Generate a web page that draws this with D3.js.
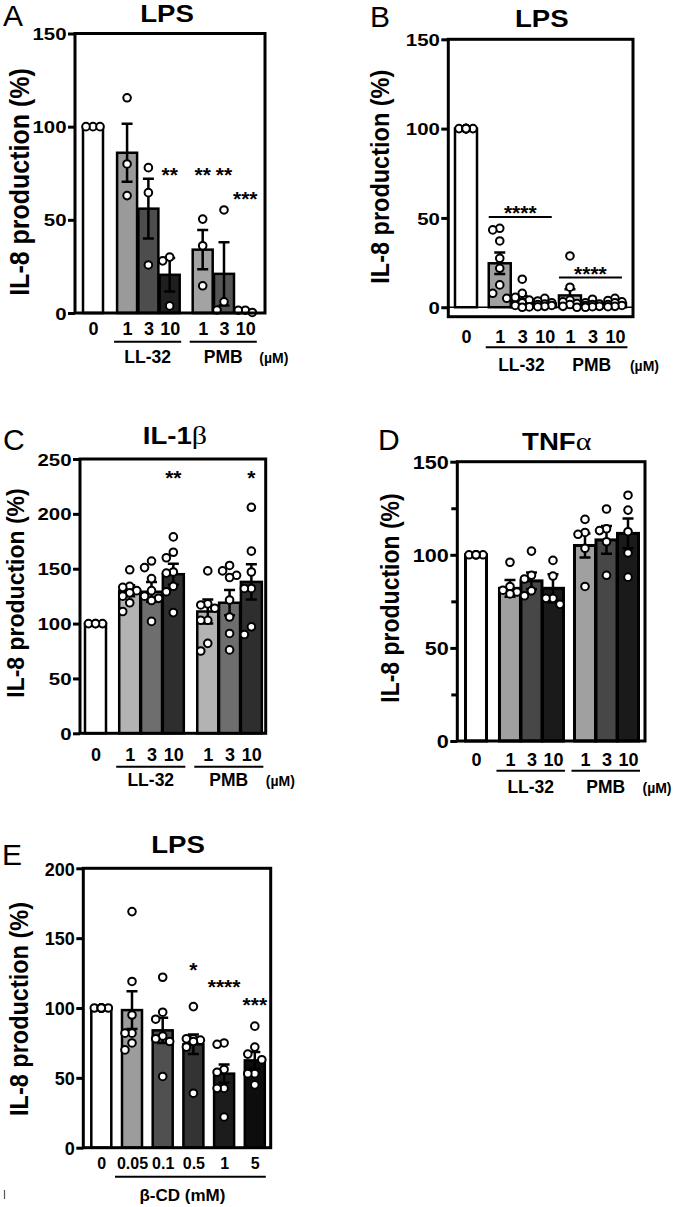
<!DOCTYPE html>
<html><head><meta charset="utf-8">
<script src="https://cdn.jsdelivr.net/npm/d3@7"></script>
<style>body{margin:0;background:#fff} svg{display:block}</style>
</head><body><svg id="c" width="677" height="1207"></svg>
<script>
// ---------------- DATA ----------------
const doseTicks = ["0","1","3","10","1","3","10"];
const groupNames = ["LL-32","PMB"];
const doseUnit = "(µM)";
const yLabelText = "IL-8 production (%)";

// Panel A (LPS, n=3)
const aMeans = [100, 86, 56, 20.5, 34, 21, 0.8];
const aSem   = [0, 15.5, 16, 9, 10.5, 17, 0.5];
const aPoints = [[100,100,100],[115.5,80,63],[78,64.6,25.8],[30,28,3.8],[50.4,36.1,14.6],[55.3,6,1.6],[1.5,1.5,0.3]];
const aStars = [{bar:3,text:"**",level:76.7},{bar:4,text:"**",level:76.7},{bar:5,text:"**",level:76.7},{bar:6,text:"***",level:63.9}];

// Panel B (LPS, n=8)
const bMeans = [100, 24.6, 4.5, 2, 6.6, 1.5, 2.2];
const bSem   = [0, 6, 1.8, 0.7, 3.5, 0.6, 0.6];
const bPoints = [
  [100,100,100,100,100,100,100,100],
  [44.2,43.3,37.1,27.4,21.8,12.5,7.8,5],
  [15.7,7.8,5.5,4,2.5,1,0.2,0],
  [5,3.5,2.5,1.8,1.5,1,0.5,0.3],
  [28.7,11.2,4,3,2,1.5,0.5,0],
  [4.5,2.5,1.8,1.5,1,0.5,0.3,0],
  [5,3.8,3,2.5,1.5,1,0.5,0.3]];
const bBrackets = [{from:1,to:3,text:"****",level:50.5},{from:4,to:6,text:"****",level:16.6}];

// Panel C (IL-1β)
const cMeans = [100, 130, 129, 145, 111, 119, 138];
const cSem   = [0, 5, 9, 9.5, 11, 11.5, 16];
const cPoints = [
  [100,100,100,100],
  [149,134,133,130,128,125,119,111],
  [157,151,141,130,125,123,121,102],
  [179,165,160,147,146,134,129,110],
  [148,118,117,114,103,103,82,75],
  [153,148,144,142,121.5,106,91,76],
  [206,166,147,132,132,97,90]];
const cStars = [{bar:3,text:"**",level:237},{bar:6,text:"*",level:237}];

// Panel D (TNFα)
const dMeans = [100, 82, 86, 82, 105, 108, 111.5];
const dSem   = [0, 4.5, 4.5, 7.5, 6.5, 7.5, 8];
const dPoints = [
  [100,100,100,100,100],
  [96,83,81,80,79],
  [102,89,87,80.7,78],
  [97,88.6,76.6,76.6,73.4],
  [119,112,111,103.5,83],
  [124.6,114,113,107,89],
  [132,124,112.4,101,88]];

// Panel E (LPS, β-CD)
const eTicks = ["0","0.05","0.1","0.5","1","5"];
const eAxisTitle = "β-CD (mM)";
const eMeans = [100, 98.5, 84, 74, 53, 62.5];
const eSem   = [0, 13.5, 9, 7, 6.5, 6];
const ePoints = [
  [100,100,100,100,100,100,100],
  [169,119,95,82,82,75,70],
  [122,97,92,80,78,76,51],
  [101,78,78,77,76,72,39],
  [75,74,56,54,42.5,42.5,22],
  [87,72,67,63,53,53,45]];
const eStars = [{bar:3,text:"*",level:130.8},{bar:4,text:"****",level:118.8},{bar:5,text:"***",level:105.7}];

// ---------------- DRAWING ----------------
const FONT = "'Liberation Sans', Arial, Helvetica, sans-serif";
const svg = d3.select("#c");

function doseSlots(g0, g1){ return [0, g0, g0+1, g0+2, g0+2+g1, g0+3+g1, g0+4+g1]; }

function swarm(vals, yS, cx, spacing, maxOff, r){
  const placed = [];
  vals.forEach(v=>{
    const py = yS(v);
    const cands=[0];
    for(let k=1;k*spacing<=maxOff+0.01;k++){cands.push(-k*spacing,k*spacing);}
    let best=0,bestD=-1;
    for(const o of cands){
      let md=Infinity;
      for(const p of placed){const d=Math.hypot(p.x-(cx+o),p.y-py); if(d<md)md=d;}
      if(md>=2*r){best=o;break;}
      if(md>bestD){bestD=md;best=o;}
    }
    placed.push({x:cx+best,y:py});
  });
  return placed;
}

function drawPanel(P){
  const g = svg.append("g");
  const y = d3.scaleLinear().domain(P.domain).range(P.yRange);
  const x = d3.scaleLinear().domain([0,1]).range([P.c0, P.c0+P.unit]);
  const s = P.slots, bw = P.barW, y0 = y(0);
  const yBottom = P.yRange[0], yTop = P.yRange[1];

  // bars
  g.selectAll("rect.bar").data(P.means).join("rect").attr("class","bar")
    .attr("x",(d,i)=>x(s[i])-bw/2).attr("y",d=>y(d))
    .attr("width",bw).attr("height",d=>Math.max(0,y0-y(d)))
    .attr("fill",(d,i)=>P.colors[i]).attr("stroke","#000").attr("stroke-width",P.barStroke||2.5);

  if(P.zeroLine){
    g.append("line").attr("x1",P.left).attr("x2",P.right).attr("y1",y0).attr("y2",y0)
      .attr("stroke","#000").attr("stroke-width",1.6);
  }

  // error bars
  P.means.forEach((m,i)=>{
    const e=P.sems[i]; if(!e) return;
    const cx=x(s[i]), t=y(m+e), b=y(Math.max(m-e,P.domain[0]));
    const cw=5.5;
    g.append("path").attr("d",`M${cx},${t}V${b}M${cx-cw},${t}H${cx+cw}M${cx-cw},${b}H${cx+cw}`)
      .attr("stroke","#000").attr("stroke-width",2.5).attr("fill","none");
  });

  // points
  P.points.forEach((arr,i)=>{
    const pts = swarm(arr,y,x(s[i]),7,Math.max(7,bw/2-3),4.5);
    g.selectAll(null).data(pts).join("circle")
      .attr("cx",d=>d.x).attr("cy",d=>d.y).attr("r",3.8)
      .attr("fill","#fff").attr("stroke","#000").attr("stroke-width",2);
  });

  // frame
  g.append("rect").attr("x",P.left).attr("y",yTop).attr("width",P.right-P.left).attr("height",yBottom-yTop)
    .attr("fill","none").attr("stroke","#000").attr("stroke-width",3);

  // y axis
  const sx = P.tickSX||1.2;
  const ax = g.append("g").attr("transform",`translate(${P.left},0)`)
    .call(d3.axisLeft(y).tickValues(P.yTicks).tickSize(7).tickFormat(d3.format("d")));
  ax.select(".domain").remove();
  ax.selectAll(".tick line").attr("stroke","#000").attr("stroke-width",3);
  ax.selectAll(".tick text").attr("fill","#000").attr("font-family",FONT).attr("font-weight","bold")
    .attr("font-size",P.tickFs||17).attr("x",-8.5/sx).attr("dy","0.36em").attr("transform",`scale(${sx},1)`);
  if(P.minor){
    const mx = g.append("g").attr("transform",`translate(${P.left},0)`)
      .call(d3.axisLeft(y).tickValues(P.minor).tickSize(6).tickFormat(""));
    mx.select(".domain").remove();
    mx.selectAll(".tick line").attr("stroke","#000").attr("stroke-width",3);
  }

  // x tick labels
  const xa = g.append("g").attr("transform",`translate(0,${P.xLabY})`)
    .call(d3.axisBottom(x).tickValues(s).tickSize(0).tickFormat((d,i)=>P.xTicks[i]));
  xa.select(".domain").remove();
  xa.selectAll(".tick text").attr("fill","#000").attr("font-family",FONT).attr("font-weight","bold")
    .attr("font-size",P.xFs||18).attr("y",0).attr("dy",0);

  // group lines and labels
  (P.groups||[]).forEach(gr=>{
    const x1 = x(s[gr.from])-bw/2-3, x2 = x(s[gr.to])+bw/2+1.5;
    g.append("line").attr("x1",x1).attr("x2",x2).attr("y1",P.groupLineY).attr("y2",P.groupLineY)
      .attr("stroke","#000").attr("stroke-width",2);
    g.append("text").attr("x",(x1+x2)/2).attr("y",P.groupTextY).attr("text-anchor","middle")
      .attr("font-family",FONT).attr("font-weight","bold").attr("font-size",17.5).text(gr.name);
    if(gr.unit){
      g.append("text").attr("x",x2+17).attr("y",P.groupTextY).attr("text-anchor","middle")
        .attr("font-family",FONT).attr("font-weight","bold").attr("font-size",14).text(gr.unit);
    }
  });

  // stars
  (P.stars||[]).forEach(st=>{
    g.append("text").attr("x",x(s[st.bar])).attr("y",y(st.level)+12).attr("text-anchor","middle")
      .attr("font-family",FONT).attr("font-weight","bold").attr("font-size",21).text(st.text);
  });
  (P.brackets||[]).forEach(br=>{
    const x1=x(s[br.from])-bw/2, x2=x(s[br.to])+bw/2-4, ly=y(br.level);
    g.append("line").attr("x1",x1).attr("x2",x2).attr("y1",ly).attr("y2",ly).attr("stroke","#000").attr("stroke-width",2);
    g.append("text").attr("x",(x1+x2)/2).attr("y",ly-9+12).attr("text-anchor","middle")
      .attr("font-family",FONT).attr("font-weight","bold").attr("font-size",21).text(br.text);
  });

  // title
  const tt = g.append("text").attr("text-anchor","middle").attr("font-family",FONT).attr("font-weight","bold")
    .attr("font-size",23).attr("transform",`translate(${P.titleX},${P.titleY}) scale(1.2,1)`);
  tt.append("tspan").text(P.title);
  if(P.greek) tt.append("tspan").attr("font-family","'Liberation Serif', 'DejaVu Serif', serif")
    .attr("font-weight","normal").attr("font-size",25).text(P.greek);

  // panel letter
  g.append("text").attr("x",P.letterX).attr("y",P.letterY).attr("font-family",FONT)
    .attr("font-size",30).text(P.letter);

  // y label
  g.append("text").attr("text-anchor","middle").attr("font-family",FONT).attr("font-weight","bold")
    .attr("font-size",P.ylFs).attr("dy","0.26em")
    .attr("transform",`translate(${P.ylX},${P.ylY}) rotate(-90) scale(1,${P.ylSY||1.12})`).text(yLabelText);
}

const groupsLL = [{from:1,to:3,name:groupNames[0]},{from:4,to:6,name:groupNames[1],unit:doseUnit}];

drawPanel({letter:"A",letterX:3,letterY:26,title:"LPS",titleX:167,titleY:22,
  left:75,right:265,yRange:[313,33.5],domain:[0,150],yTicks:[0,50,100,150],
  c0:93,unit:21.3,slots:doseSlots(1.6,1.55),barW:20,
  means:aMeans,sems:aSem,points:aPoints,stars:aStars,
  colors:["#ffffff","#9a9a9a","#4d4d4d","#1f1f1f","#a3a3a3","#555555","#222222"],
  xTicks:doseTicks,xLabY:334.5,groups:groupsLL,groupLineY:341.7,groupTextY:363,
  ylX:21.5,ylY:182,ylFs:25});

drawPanel({letter:"B",letterX:370,letterY:27,title:"LPS",titleX:541.7,titleY:27.3,
  left:448.3,right:633,yRange:[316.7,39.3],domain:[-5.3,150],yTicks:[0,50,100,150],zeroLine:true,
  c0:466,unit:22.5,slots:doseSlots(1.5,1.12),barW:22,
  means:bMeans,sems:bSem,points:bPoints,brackets:bBrackets,
  colors:["#ffffff","#a0a0a0","#555555","#222222","#b0b0b0","#555555","#222222"],
  xTicks:doseTicks,xLabY:342.7,groups:groupsLL,groupLineY:347.3,groupTextY:371,
  ylX:381.7,ylY:176.7,ylFs:23.5});

drawPanel({letter:"C",letterX:3,letterY:450,title:"IL-1",greek:"β",titleX:175,titleY:444,
  left:80,right:265.7,yRange:[733.3,459],domain:[0,250],yTicks:[0,50,100,150,200,250],
  c0:95.5,unit:21.8,slots:doseSlots(1.57,1.58),barW:21,
  means:cMeans,sems:cSem,points:cPoints,stars:cStars,
  colors:["#ffffff","#b3b3b3","#6e6e6e","#2e2e2e","#b3b3b3","#6e6e6e","#2e2e2e"],
  xTicks:doseTicks,xLabY:760.5,groups:groupsLL,groupLineY:766.7,groupTextY:786,
  ylX:18,ylY:593,ylFs:23,ylSY:1.04});

drawPanel({letter:"D",letterX:378,letterY:450,title:"TNF",greek:"α",titleX:556.7,titleY:450,
  left:457.3,right:645,yRange:[741,461.7],domain:[0,150],yTicks:[0,50,100,150],minor:[25,75,125],
  c0:476,unit:21.5,slots:doseSlots(1.58,1.49),barW:21,barStroke:3,
  means:dMeans,sems:dSem,points:dPoints,
  colors:["#ffffff","#a0a0a0","#474747","#1a1a1a","#a0a0a0","#474747","#1a1a1a"],
  xTicks:doseTicks,xLabY:766,groups:groupsLL,groupLineY:770.7,groupTextY:793,
  ylX:392,ylY:598,ylFs:23,tickFs:18});

drawPanel({letter:"E",letterX:2,letterY:865,title:"LPS",titleX:178,titleY:853,
  left:83.3,right:270.7,yRange:[1147.7,868.3],domain:[0,200],yTicks:[0,50,100,150,200],
  c0:101.3,unit:30.7,slots:[0,1,2,3,4,5],barW:20,
  means:eMeans,sems:eSem,points:ePoints,stars:eStars,
  colors:["#ffffff","#9c9c9c","#505050","#333333","#1c1c1c","#0d0d0d"],
  xTicks:eTicks,xLabY:1169,xFs:16,tickSX:0.95,tickFs:19,
  ylX:21,ylY:1009,ylFs:23.5});

// E axis title line
(function(){
  const x = d3.scaleLinear().domain([0,1]).range([101.3,132]);
  const x1 = x(1)-10-7, x2 = x(5)+10+1;
  svg.append("line").attr("x1",x1).attr("x2",x2).attr("y1",1176.7).attr("y2",1176.7)
    .attr("stroke","#000").attr("stroke-width",2);
  svg.append("text").attr("x",(x1+x2)/2-8).attr("y",1201).attr("text-anchor","middle")
    .attr("font-family",FONT).attr("font-weight","bold").attr("font-size",17).text(eAxisTitle);
  svg.append("line").attr("x1",4.5).attr("x2",4.5).attr("y1",1190).attr("y2",1199)
    .attr("stroke","#555").attr("stroke-width",1.2);
})();
</script></body></html>
